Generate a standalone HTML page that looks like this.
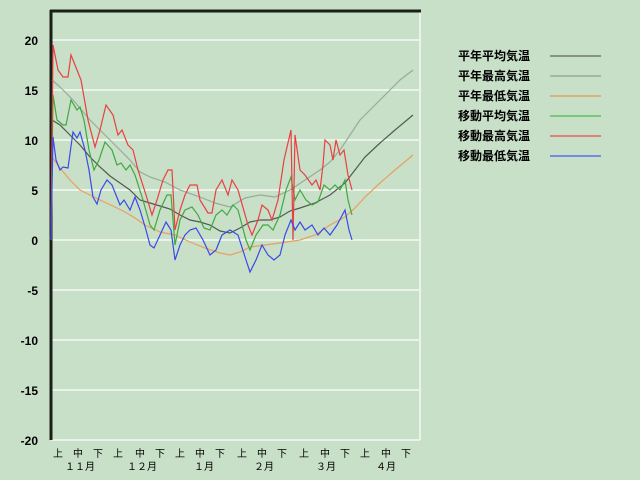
<!DOCTYPE html>
<html><head><meta charset="utf-8"><style>
html,body{margin:0;padding:0;background:#c8dfc8;}
svg{display:block;font-family:"Liberation Sans","Noto Sans CJK JP",sans-serif;}
</style></head><body>
<svg width="640" height="480" viewBox="0 0 640 480" xmlns="http://www.w3.org/2000/svg">
<rect width="640" height="480" fill="#c8dfc8"/>
<g stroke="#eaf3ea" stroke-width="2">
<line x1="51" x2="420" y1="40" y2="40"/><line x1="51" x2="420" y1="90" y2="90"/>
<line x1="51" x2="420" y1="140" y2="140"/><line x1="51" x2="420" y1="190" y2="190"/>
<line x1="51" x2="420" y1="240" y2="240"/><line x1="51" x2="420" y1="290" y2="290"/>
<line x1="51" x2="420" y1="340" y2="340"/><line x1="51" x2="420" y1="390" y2="390"/>
<line x1="51" x2="420" y1="440" y2="440"/><line x1="420" x2="420" y1="11" y2="440"/>
</g>
<line x1="50" x2="421" y1="11" y2="11" stroke="#1a1f1a" stroke-width="3"/>
<line x1="51" x2="51" y1="10" y2="440" stroke="#1a1f1a" stroke-width="3"/>
<g font-size="12" font-weight="bold" fill="#000" text-anchor="end">
<text x="38" y="45">20</text><text x="38" y="95">15</text><text x="38" y="145">10</text>
<text x="38" y="195">5</text><text x="38" y="245">0</text><text x="38" y="295">-5</text>
<text x="38" y="345">-10</text><text x="38" y="395">-15</text><text x="38" y="445">-20</text>
</g>
<g font-size="10" fill="#000" text-anchor="middle">
<text x="58" y="457">上</text><text x="78" y="457">中</text><text x="98" y="457">下</text>
<text x="118" y="457">上</text><text x="140" y="457">中</text><text x="160" y="457">下</text>
<text x="180" y="457">上</text><text x="200" y="457">中</text><text x="220" y="457">下</text>
<text x="242" y="457">上</text><text x="262" y="457">中</text><text x="282" y="457">下</text>
<text x="304" y="457">上</text><text x="325" y="457">中</text><text x="345" y="457">下</text>
<text x="365" y="457">上</text><text x="386" y="457">中</text><text x="406" y="457">下</text>
<text x="80" y="470">１１月</text><text x="142" y="470">１２月</text><text x="204" y="470">１月</text>
<text x="264" y="470">２月</text><text x="326" y="470">３月</text><text x="386" y="470">４月</text>
</g>
<g transform="translate(0,240) scale(1,-10)" fill="none" stroke-width="1.2">
<polyline vector-effect="non-scaling-stroke" stroke="#9aaa9a" points="52,16 60,15.3 73,14 90,12 100,11 115,9.5 130,8 140,6.8 150,6.3 165,5.8 180,5 200,4.3 215,3.7 230,3.3 245,4.2 260,4.5 275,4.3 290,5 305,6 320,7 330,7.8 340,9 350,10.5 360,12 370,13 380,14 390,15 400,16 413,17"/>
<polyline vector-effect="non-scaling-stroke" stroke="#e8a060" points="52,8.3 60,7.2 70,6 80,5 90,4.5 100,4 115,3.3 125,2.8 135,2.2 145,1.5 160,0.8 175,0.5 190,-0.2 205,-0.8 220,-1.3 230,-1.5 240,-1.2 250,-0.7 265,-0.5 280,-0.3 300,0 315,0.5 330,1.5 345,2.3 355,3.2 365,4.3 380,5.7 395,7 413,8.5"/>
<polyline vector-effect="non-scaling-stroke" stroke="#505a50" points="52,12 60,11.5 70,10.5 80,9.5 90,8.3 100,7.3 110,6.4 120,5.7 130,5 140,4 150,3.7 160,3.4 170,3.1 180,2.5 190,2 200,1.8 210,1.5 220,0.9 230,0.7 240,1.2 250,1.8 260,2 270,2 280,2.3 290,2.9 300,3.2 315,3.7 330,4.5 345,5.7 355,7 365,8.3 380,9.7 395,11 413,12.5"/>
<polyline vector-effect="non-scaling-stroke" stroke="#40a840" points="51,0 53,14.5 57,12 63,11.5 66,11.5 71,14 77,13 80,13.3 84,12 89,9 94,7 99,8 105,9.8 112,9 117,7.5 121,7.7 126,7 130,7.5 135,6.5 143,4 150,1.5 154,1 160,3 167,4.5 171,4.5 175,-0.5 180,2 185,3 192,3.3 198,2.5 204,1.2 210,1 216,2.5 222,3 227,2.5 233,3.5 238,3 246,0 250,-1 256,0.5 263,1.5 268,1.5 273,1 280,2.5 286,5 291,6.3 295,4 300,5 306,4 312,3.5 318,3.8 324,5.5 330,5 335,5.5 340,5 345,6 348,4 352,2.5"/>
<polyline vector-effect="non-scaling-stroke" stroke="#e84040" points="51,0 53,19.5 58,17 63,16.3 68,16.3 71,18.5 77,17 81,16 88,12 95,9.3 100,11 106,13.5 113,12.5 118,10.5 122,11 128,9.5 133,9 138,7 146,4.5 152,2.5 157,4 163,6 168,7 172,7 175,1 180,3 185,4.5 190,5.5 197,5.5 200,4 208,2.7 212,2.7 216,5 222,6 228,4.5 232,6 238,5 248,1.5 252,0.5 258,2 262,3.5 268,3 272,2 278,4 284,8 291,11 293,0 295,10.5 300,7 305,6.5 312,5.5 316,6 320,5 323,7.5 325,10 330,9.5 333,8 336,10 340,8.5 344,9 348,6.5 352,5"/>
<polyline vector-effect="non-scaling-stroke" stroke="#3a4ae8" points="51,0 53,10.3 56,8 60,7 63,7.3 68,7.2 73,10.8 77,10.2 80,10.8 85,9 89,7 93,4.3 97,3.6 101,5 107,6 112,5.5 116,4.5 120,3.5 124,4 130,3 135,4.3 140,3 146,1 150,-0.5 154,-0.8 160,0.5 166,1.8 171,1 175,-2 180,-0.5 185,0.5 190,1 196,1.2 203,0 210,-1.5 216,-1 222,0.5 230,1 238,0.5 246,-2 250,-3.2 256,-2 262,-0.5 268,-1.5 274,-2 280,-1.5 285,0.5 291,2 295,1 300,1.8 305,1 312,1.5 318,0.5 324,1.2 330,0.5 337,1.5 345,3 349,1 352,0"/>
</g>
<g font-size="12" font-weight="bold" fill="#000">
<text x="458" y="60">平年平均気温</text><text x="458" y="80">平年最高気温</text>
<text x="458" y="100">平年最低気温</text><text x="458" y="120">移動平均気温</text>
<text x="458" y="140">移動最高気温</text><text x="458" y="160">移動最低気温</text>
</g>
<g stroke-width="1.5">
<line x1="550" x2="601" y1="56" y2="56" stroke="#707a70"/>
<line x1="550" x2="601" y1="76" y2="76" stroke="#9aaa9a"/>
<line x1="550" x2="601" y1="96" y2="96" stroke="#e8a060"/>
<line x1="550" x2="601" y1="116" y2="116" stroke="#60c060"/>
<line x1="550" x2="601" y1="136" y2="136" stroke="#e86060"/>
<line x1="550" x2="601" y1="156" y2="156" stroke="#5a70e8"/>
</g>
</svg>
</body></html>
